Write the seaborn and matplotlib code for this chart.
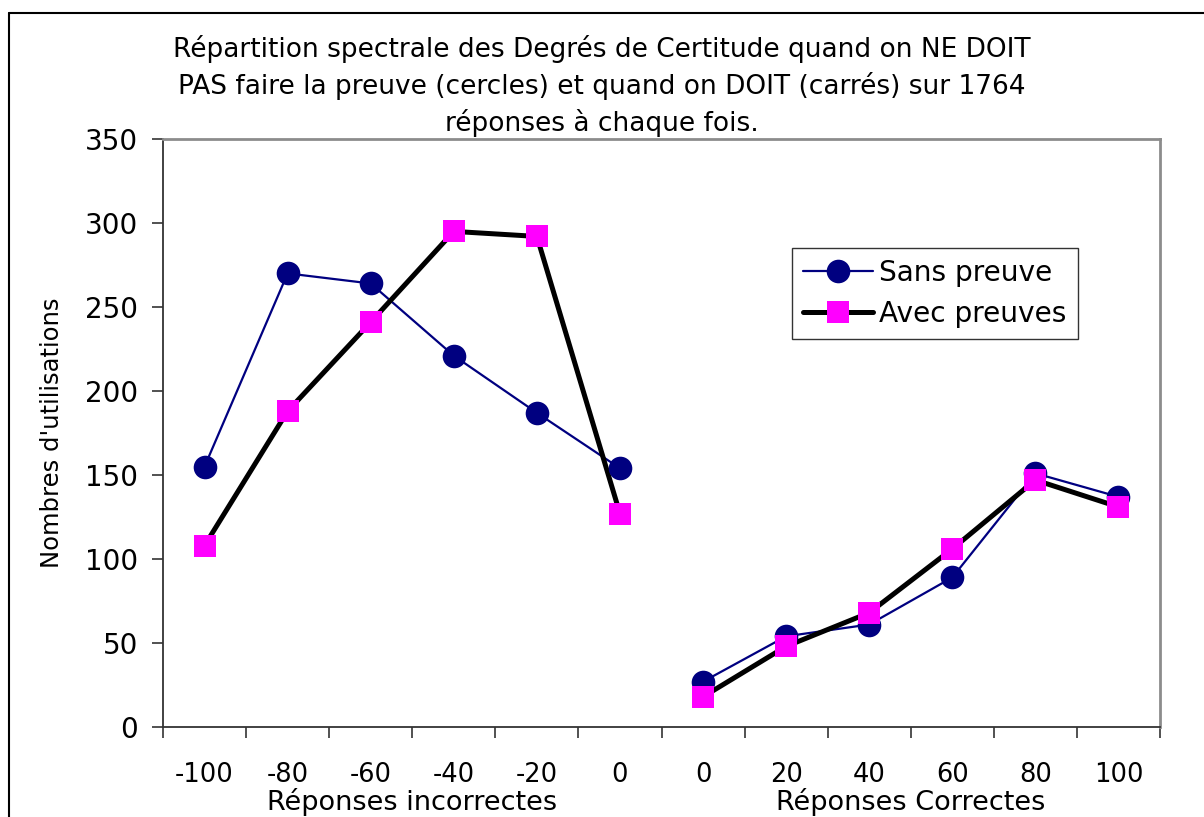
import numpy as np
import pandas as pd
import matplotlib
matplotlib.use("Agg")
import matplotlib.pyplot as plt
import matplotlib.transforms as mtransforms
from matplotlib.lines import Line2D
import seaborn as sns

# ---- data ----
tick_labels = ["-100", "-80", "-60", "-40", "-20", "0", "0", "20", "40", "60", "80", "100"]
segments = ["incorrect"] * 6 + ["correct"] * 6
sans_preuve = [155, 270, 264, 221, 187, 154, 27, 54, 61, 89, 151, 137]
avec_preuves = [108, 188, 241, 295, 292, 127, 18, 48, 68, 106, 147, 131]
group_labels = ["Réponses incorrectes", "Réponses Correctes"]
series_names = ["Sans preuve", "Avec preuves"]
title = ("Répartition spectrale des Degrés de Certitude quand on NE DOIT\n"
         "PAS faire la preuve (cercles) et quand on DOIT (carrés) sur 1764\n"
         "réponses à chaque fois.")

pos = np.arange(len(tick_labels))
df = pd.DataFrame({
    "pos": np.concatenate([pos, pos]),
    "val": sans_preuve + avec_preuves,
    "serie": [series_names[0]] * len(pos) + [series_names[1]] * len(pos),
    "seg": segments + segments,
})

sns.set_theme(style="white")
plt.rcParams["font.family"] = ["DejaVu Sans"]
plt.rcParams["text.color"] = "black"
plt.rcParams["axes.labelcolor"] = "black"
plt.rcParams["xtick.color"] = "black"
plt.rcParams["ytick.color"] = "black"

W, H = 1204, 817
fig = plt.figure(figsize=(W / 100, H / 100), dpi=100)
ax = fig.add_axes([163 / W, 1 - 727 / H, (1160 - 163) / W, (727 - 139) / H])

styles = {
    series_names[0]: dict(line="#000080", lw=1.6, marker="o", face="#000080", ms=17),
    series_names[1]: dict(line="#000000", lw=3.6, marker="s", face="#FF00FF", ms=16),
}

# lines first
for name in series_names:
    st = styles[name]
    for seg in ["incorrect", "correct"]:
        sub = df[(df.serie == name) & (df.seg == seg)]
        sns.lineplot(data=sub, x="pos", y="val", ax=ax, color=st["line"],
                     linewidth=st["lw"], legend=False, zorder=2)
# markers
for name in series_names:
    st = styles[name]
    sub = df[df.serie == name]
    sns.scatterplot(data=sub, x="pos", y="val", ax=ax, marker=st["marker"],
                    color=st["face"], s=st["ms"] ** 2, linewidth=0,
                    legend=False, zorder=3)

ax.set_xlim(-0.5, len(tick_labels) - 0.5)
ax.set_ylim(0, 350)
ax.set_yticks(np.arange(0, 351, 50))
ax.set_xticks(pos)
ax.set_xticklabels(tick_labels)
ax.set_xticks(np.arange(-0.5, len(tick_labels), 1.0), minor=True)
ax.tick_params(axis="x", which="major", length=0, pad=25, labelsize=18.5)
ax.tick_params(axis="x", which="minor", length=8, width=1.2, color="#333333",
               direction="out", bottom=True)
ax.tick_params(axis="y", which="major", length=8, width=1.2, color="#333333",
               direction="out", left=True, pad=10, labelsize=20)
ax.set_xlabel("")
ax.set_ylabel("Nombres d'utilisations", fontsize=17.5, labelpad=15)

for side in ["left", "bottom"]:
    ax.spines[side].set_color("#333333")
    ax.spines[side].set_linewidth(1.3)
for side in ["top", "right"]:
    ax.spines[side].set_color("#8c8c8c")
    ax.spines[side].set_linewidth(2.0)

trans = mtransforms.blended_transform_factory(ax.transData, ax.transAxes)
ax.text(2.5, -0.127, group_labels[0], transform=trans, ha="center", va="center", fontsize=19.5)
ax.text(8.5, -0.127, group_labels[1], transform=trans, ha="center", va="center", fontsize=19.5)

handles = [
    Line2D([], [], color=styles[n]["line"], lw=styles[n]["lw"], marker=styles[n]["marker"],
           markerfacecolor=styles[n]["face"], markeredgewidth=0, markersize=styles[n]["ms"])
    for n in series_names
]
leg = ax.legend(handles, series_names, loc="upper left", bbox_to_anchor=(0.631, 0.815),
                fontsize=20.2, frameon=True, fancybox=False, handlelength=2.5,
                handletextpad=0.2, borderpad=0.4, labelspacing=0.45, borderaxespad=0)
leg.get_frame().set_edgecolor("#000000")
leg.get_frame().set_linewidth(1.0)

fig.text(0.5, 1 - 35 / H, title, ha="center", va="top", fontsize=19, linespacing=1.42)

# outer border (cut at right and bottom)
fig.add_artist(Line2D([9 / W, 9 / W], [0, 1 - 13 / H], transform=fig.transFigure,
                      color="black", lw=1.5))
fig.add_artist(Line2D([9 / W, 1], [1 - 13 / H, 1 - 13 / H], transform=fig.transFigure,
                      color="black", lw=1.5))

fig.savefig("out.png", dpi=100)
